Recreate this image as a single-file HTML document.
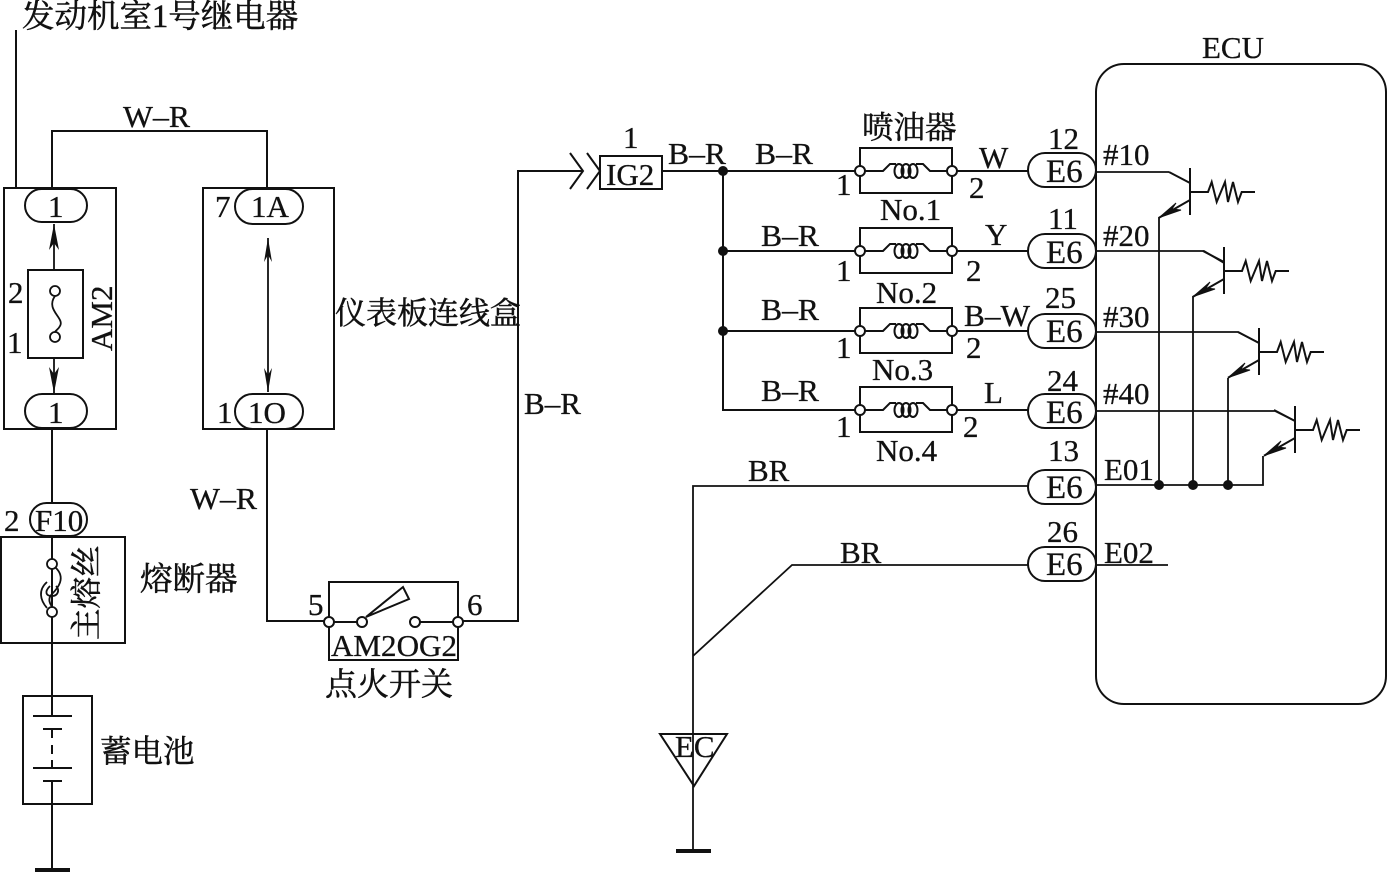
<!DOCTYPE html>
<html><head><meta charset="utf-8"><style>
html,body{margin:0;padding:0;background:#fff}
svg{display:block}
text{font-family:"Liberation Serif","Noto Serif CJK SC",serif;font-size:31px;fill:#111;stroke:#111;stroke-width:.3}
.c{font-size:31.5px;stroke-width:.5}
.l{fill:none;stroke:#111;stroke-width:2}
.t{stroke-width:1.8}
</style></head><body>
<svg width="1387" height="872" viewBox="0 0 1387 872" xmlns="http://www.w3.org/2000/svg">
<defs>
<g id="inj">
<rect class="l" x="860" y="-23" width="92" height="45"/>
<path class="l" d="M860 0H883L890 -7H896M916 -7H923L930 0H952"/>
<ellipse class="l" cx="899" cy="0" rx="4.500" ry="7"/>
<ellipse class="l" cx="906" cy="0" rx="4.500" ry="7"/>
<ellipse class="l" cx="913" cy="0" rx="4.500" ry="7"/>
<circle class="l" cx="860" cy="0" r="5" style="fill:#fff"/>
<circle class="l" cx="952" cy="0" r="5" style="fill:#fff"/>
</g>
<rect id="pill" class="l" x="1028" y="-17" width="68" height="34" rx="17"/>
<g id="tr">
<path class="l" d="M0 -24V23M0 -9L-21 -20M0 0H18L21.700 -10L26.700 10L35 -10L38 10L43 -10L48 10L51.700 0H65M0 8L-31 25.700"/>
<polygon points="-31,25.700 -14,11 -18,17 -9,18" fill="#111" stroke="#111" stroke-width="1"/>
</g>
</defs>

<!-- left top -->
<path class="l" d="M16 30V188M52 188V131H267V188"/>
<rect class="l" x="4" y="188" width="112" height="241"/>
<rect class="l" x="25" y="189" width="62" height="33" rx="16.500"/>
<rect class="l" x="25" y="394" width="62" height="34" rx="17"/>
<rect class="l" x="28" y="270" width="55" height="88"/>
<path class="l t" d="M54 224V270M54 358V393"/>
<polygon points="54,224 49,250 54,243 59,250" fill="#111"/>
<polygon points="54,393 49,367 54,374 59,367" fill="#111"/>
<circle class="l t" cx="55" cy="291" r="5"/>
<circle class="l t" cx="55" cy="337" r="5"/>
<path class="l t" d="M55 296C45 310 65 318 60 326C58 330 56 330 55 332"/>
<text x="8" y="303">2</text><text x="7" y="353">1</text>
<text x="48" y="217">1</text><text x="48" y="423">1</text>
<text transform="translate(112 351) rotate(-90)" style="font-size:31px">AM2</text>

<!-- fuse -->
<path class="l" d="M52 429V503M52 535V696M52 804V870"/>
<rect class="l" x="30" y="503" width="57" height="33" rx="16.500"/>
<rect class="l" x="1" y="537" width="124" height="106"/>
<circle class="l t" cx="52" cy="564" r="5" style="fill:#fff"/>
<circle class="l t" cx="52" cy="612" r="5" style="fill:#fff"/>
<path class="l t" d="M56 568C66 578 58 588 52 594C46 600 52 606 52 607M47 582C38 590 40 600 47 608M50 586C44 592 46 596 52 596C58 596 60 590 56 586"/>
<text x="4" y="531">2</text><text x="35" y="531">F10</text>
<text x="140" y="590" class="c" style="font-size:32.5px">熔断器</text>
<text transform="translate(97 640) rotate(-90)" class="c">主熔丝</text>

<!-- battery -->
<rect class="l" x="23" y="696" width="69" height="108"/>
<path class="l" d="M33 716H72M43 729H62M52 696V716M52 729V738M52 745V754M52 760V768M33 768H72M43 781H62M52 781V804"/>
<rect x="35" y="868" width="35" height="4" fill="#111"/>
<text x="100" y="762" class="c">蓄电池</text>

<!-- top title -->
<text x="22" y="27" class="c" style="font-size:32.500px">发动机室1号继电器</text>
<text x="123" y="127" textLength="67" lengthAdjust="spacingAndGlyphs">W–R</text>

<!-- dash box -->
<rect class="l" x="203" y="188" width="131" height="241"/>
<rect class="l" x="235" y="189" width="68" height="35" rx="17.500"/>
<rect class="l" x="235" y="394" width="68" height="35" rx="17.500"/>
<path class="l t" d="M268 238V392"/>
<polygon points="268,238 264,262 268,255 272,262" fill="#111"/>
<polygon points="268,392 264,368 268,375 272,368" fill="#111"/>
<text x="215" y="217">7</text><text x="251" y="217">1A</text>
<text x="217" y="423">1</text><text x="248" y="423">1O</text>
<text x="335" y="324" class="c" style="font-size:31px">仪表板连线盒</text>
<text x="190" y="509" textLength="67" lengthAdjust="spacingAndGlyphs">W–R</text>
<text x="524" y="414" textLength="57" lengthAdjust="spacingAndGlyphs">B–R</text>

<!-- switch -->
<path class="l" d="M267 429V621H329M458 621H518V171H583"/>
<rect class="l" x="329" y="582" width="129" height="78"/>
<path class="l" d="M415 622H458M329 622H362"/>
<polygon class="l" points="366,617 403,587 409,599" style="fill:#fff"/>
<circle class="l" cx="329" cy="622" r="5" style="fill:#fff"/>
<circle class="l" cx="362" cy="622" r="5" style="fill:#fff"/>
<circle class="l" cx="415" cy="622" r="5" style="fill:#fff"/>
<circle class="l" cx="458" cy="622" r="5" style="fill:#fff"/>
<text x="308" y="615">5</text><text x="467" y="615">6</text>
<text x="331" y="656" textLength="126" lengthAdjust="spacingAndGlyphs">AM2OG2</text>
<text x="325" y="695" class="c" style="font-size:32px">点火开关</text>

<!-- IG2 -->
<path class="l" d="M570 153L583 171L570 189M587 153L600 171L587 189"/>
<rect class="l" x="600" y="156" width="62" height="33"/>
<path class="l" d="M662 171H860M723 171V410H860M723 251H860M723 331H860"/>
<circle cx="723" cy="171" r="5" fill="#111"/>
<circle cx="723" cy="251" r="5" fill="#111"/>
<circle cx="723" cy="331" r="5" fill="#111"/>
<text x="623" y="148">1</text><text x="606" y="185">IG2</text>
<text x="668" y="164" textLength="58" lengthAdjust="spacingAndGlyphs">B–R</text><text x="755" y="164" textLength="58" lengthAdjust="spacingAndGlyphs">B–R</text>
<text x="761" y="246" textLength="58" lengthAdjust="spacingAndGlyphs">B–R</text><text x="761" y="320" textLength="58" lengthAdjust="spacingAndGlyphs">B–R</text><text x="761" y="401" textLength="58" lengthAdjust="spacingAndGlyphs">B–R</text>

<!-- injectors -->
<use href="#inj" y="171"/><use href="#inj" y="251"/><use href="#inj" y="331"/><use href="#inj" y="410"/>
<path class="l" d="M957 171H1028M957 251H1028M957 331H1028M957 410H1028"/>
<use href="#pill" y="170"/><use href="#pill" y="251"/><use href="#pill" y="331"/><use href="#pill" y="411"/>
<use href="#pill" y="487"/><use href="#pill" y="564"/>
<text x="862" y="138" class="c">喷油器</text>
<text x="836" y="195">1</text><text x="969" y="198">2</text><text x="880" y="220">No.1</text>
<text x="836" y="281">1</text><text x="966" y="281">2</text><text x="876" y="303">No.2</text>
<text x="836" y="358">1</text><text x="966" y="358">2</text><text x="872" y="380">No.3</text>
<text x="836" y="437">1</text><text x="963" y="437">2</text><text x="876" y="461">No.4</text>
<text x="979" y="168">W</text><text x="985" y="245">Y</text><text x="964" y="326" textLength="66" lengthAdjust="spacingAndGlyphs">B–W</text><text x="984" y="403">L</text>
<text x="1048" y="149">12</text><text x="1048" y="229">11</text><text x="1045" y="308">25</text><text x="1047" y="391">24</text><text x="1048" y="461">13</text><text x="1047" y="542">26</text>
<text x="1046" y="182" style="font-size:33px">E6</text><text x="1046" y="263" style="font-size:33px">E6</text><text x="1046" y="342" style="font-size:33px">E6</text><text x="1046" y="423" style="font-size:33px">E6</text><text x="1046" y="498" style="font-size:33px">E6</text><text x="1046" y="575" style="font-size:33px">E6</text>

<!-- ECU -->
<rect class="l" x="1096" y="64" width="290" height="640" rx="28"/>
<text x="1202" y="58">ECU</text>
<text x="1103" y="165">#10</text><text x="1103" y="246">#20</text><text x="1103" y="327">#30</text><text x="1103" y="404">#40</text>
<text x="1104" y="480">E01</text><text x="1104" y="563">E02</text>
<path class="l t" d="M1096 172H1169M1096 251H1204L1224 263M1096 332H1238L1259 343M1096 411H1275L1295 421M1096 485H1263V456M1159 217V485M1193 296V485M1228 378V485M1096 565H1168"/>
<use href="#tr" x="1190" y="192"/><use href="#tr" x="1224" y="271"/><use href="#tr" x="1259" y="352"/><use href="#tr" x="1295" y="430"/>
<circle cx="1159" cy="485" r="5" fill="#111"/>
<circle cx="1193" cy="485" r="5" fill="#111"/>
<circle cx="1228" cy="485" r="5" fill="#111"/>

<!-- BR / EC -->
<path class="l t" d="M1028 486H693V851M1028 565H792L693 656"/>
<polygon class="l" points="660,734 727,734 694,786"/>
<rect x="676" y="849" width="35" height="4" fill="#111"/>
<text x="748" y="481">BR</text><text x="840" y="563">BR</text>
<text x="675" y="757">EC</text>
</svg>
</body></html>
